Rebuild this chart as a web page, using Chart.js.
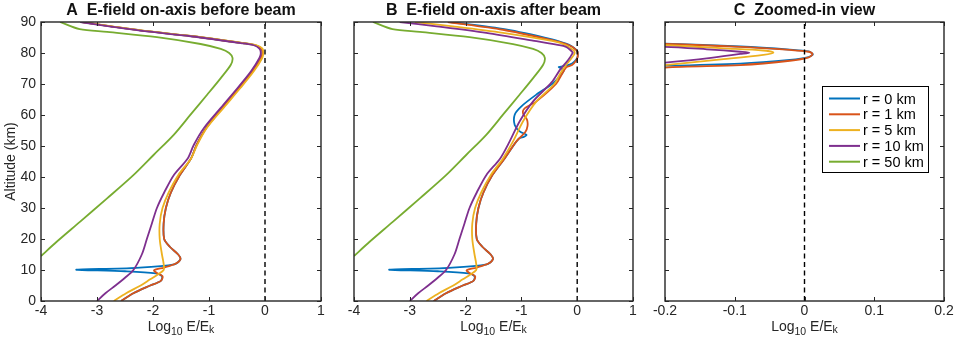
<!DOCTYPE html>
<html>
<head>
<meta charset="utf-8">
<script src="https://cdn.jsdelivr.net/npm/chart.js@4.4.0/dist/chart.umd.min.js"></script>
<style>
  body { margin: 0; background: #fff; }
  #wrap { position: relative; width: 957px; height: 342px; }
  canvas { position: absolute; top: 0; }
</style>
</head>
<body>
<div id="wrap">
  <canvas id="panelA" width="335" height="342" style="left:0px"></canvas>
  <canvas id="panelB" width="310" height="342" style="left:335px"></canvas>
  <canvas id="panelC" width="312" height="342" style="left:645px"></canvas>
</div>
<script>
// series names + matlab default colours
const series_labels = ["r = 0 km", "r = 1 km", "r = 5 km", "r = 10 km", "r = 50 km"];
const series_colors = ["#0072BD", "#D95319", "#EDB120", "#7E2F8E", "#77AC30"];

// tick values
const alt_ticks = [0, 10, 20, 30, 40, 50, 60, 70, 80, 90];
const log_ticks = [-4, -3, -2, -1, 0, 1];
const zoom_ticks = [-0.2, -0.1, 0, 0.1, 0.2];

// [log10 E/Ek, altitude km]
const zero_line = [[0, 0], [0, 90]];

// --- A: before beam ---
const before_r0 = [[-3.27,90],[-2.72,88.5],[-2.2,87.2],[-1.3,85.4],[-0.4,83.2],[-0.17,82.5],[-0.065,81.4],[-0.045,80],[-0.07,78.4],
  [-0.22,74.1],[-0.46,68.7],[-0.76,62.3],[-1.05,55.8],[-1.22,50.4],[-1.32,46],[-1.52,40.6],[-1.68,35],[-1.77,30],[-1.81,25],
  [-1.80,20],[-1.70,17.5],[-1.55,15],[-1.51,13.5],[-1.62,11.8],[-2.3,10.7],[-3.37,10.1],[-2.5,9.6],[-1.95,8.9],[-1.84,8.0],
  [-1.86,6.5],[-2.05,5],[-2.35,2.5],[-2.57,0]];
const before_r1 = [[-3.27,90],[-2.72,88.5],[-2.2,87.2],[-1.3,85.4],[-0.4,83.2],[-0.17,82.5],[-0.065,81.4],[-0.045,80],[-0.07,78.4],
  [-0.22,74.1],[-0.46,68.7],[-0.76,62.3],[-1.05,55.8],[-1.22,50.4],[-1.32,46],[-1.52,40.6],[-1.68,35],[-1.77,30],[-1.81,25],
  [-1.80,20],[-1.70,17.5],[-1.55,15],[-1.51,13.5],[-1.60,12],[-1.80,10.8],[-1.98,9.9],[-1.93,9.0],[-1.83,8.0],[-1.86,6.5],
  [-2.05,5],[-2.35,2.5],[-2.57,0]];
const before_r5 = [[-3.25,90],[-2.70,88.5],[-2.18,87.2],[-1.28,85.4],[-0.38,83.2],[-0.15,82.5],[-0.045,81.4],[-0.03,80],[-0.05,78.4],
  [-0.2,74.1],[-0.44,68.7],[-0.74,62.3],[-1.04,55.8],[-1.21,50.4],[-1.32,46],[-1.55,40.6],[-1.72,35],[-1.83,30],[-1.88,25],
  [-1.88,20],[-1.84,15],[-1.81,12],[-1.81,10],[-1.92,8.5],[-2.05,7],[-2.22,5],[-2.48,2.5],[-2.70,0]];
const before_r10 = [[-3.30,90],[-2.75,88.5],[-2.23,87.2],[-1.33,85.4],[-0.43,83.2],[-0.2,82.5],[-0.1,81.4],[-0.075,80],[-0.1,78.4],
  [-0.25,74.1],[-0.49,68.7],[-0.79,62.3],[-1.09,55.8],[-1.27,50.4],[-1.38,46],[-1.63,40.6],[-1.80,35],[-1.93,30],[-2.02,25],
  [-2.11,20],[-2.20,15],[-2.35,10],[-2.50,7.5],[-2.67,5],[-2.85,2.5],[-3.0,0]];
const before_r50 = [[-3.66,90],[-3.31,87.7],[-2.82,86.8],[-1.93,85.1],[-1.15,82.9],[-0.79,81.3],[-0.64,80.0],[-0.58,78.4],[-0.61,76.2],
  [-0.79,71.9],[-1.03,66.6],[-1.33,60.1],[-1.63,53.6],[-1.99,47.1],[-2.35,40.6],[-2.82,33.1],[-3.30,25.6],[-3.72,19.1],[-4.0,14.5]];

// --- B: after beam (C is the same curves, zoomed) ---
const after_r0 = [[-2.28,90],[-1.28,87.6],[-0.45,84.4],[-0.2,83.0],[-0.092,82.1],[-0.021,81.1],[0.006,80.5],[0.012,79.6],[0.006,78.7],
  [-0.021,77.8],[-0.092,76.6],[-0.2,75.9],[-0.33,75.5],[-0.29,75.1],[-0.24,74.3],[-0.32,72.3],[-0.45,70],[-0.73,66.6],[-1.0,62.8],
  [-1.12,60.1],[-1.12,56.8],[-1.03,54.7],[-0.91,53.6],[-0.95,53.0],[-1.05,52.3],[-1.30,46],[-1.52,40.6],[-1.68,35],[-1.77,30],
  [-1.81,25],[-1.80,20],[-1.70,17.5],[-1.55,15],[-1.51,13.5],[-1.62,11.8],[-2.3,10.7],[-3.37,10.1],[-2.5,9.6],[-1.95,8.9],
  [-1.84,8.0],[-1.86,6.5],[-2.05,5],[-2.35,2.5],[-2.57,0]];
const after_r1 = [[-2.32,90],[-1.33,87.5],[-0.49,84.3],[-0.2,82.9],[-0.092,82.0],[-0.021,81.0],[0.006,80.4],[0.0115,79.7],[0.006,78.6],
  [-0.021,77.5],[-0.092,76.1],[-0.2,75.3],[-0.28,73],[-0.38,70],[-0.73,64.4],[-0.95,62],[-0.97,60.5],[-0.90,58.5],[-0.89,56.5],
  [-0.93,54.5],[-1.09,51.5],[-1.30,46],[-1.52,40.6],[-1.68,35],[-1.77,30],[-1.81,25],[-1.80,20],[-1.70,17.5],[-1.55,15],
  [-1.51,13.5],[-1.60,12],[-1.80,10.8],[-1.98,9.9],[-1.93,9.0],[-1.83,8.0],[-1.86,6.5],[-2.05,5],[-2.35,2.5],[-2.57,0]];
const after_r5 = [[-2.91,90],[-2.23,88.6],[-1.33,86.5],[-0.43,83.8],[-0.2,82.5],[-0.116,81.5],[-0.059,80.8],[-0.0445,80.1],[-0.059,79.4],
  [-0.116,78.0],[-0.2,76.1],[-0.3,73.5],[-0.41,70],[-0.73,64.4],[-0.97,58],[-1.15,51.5],[-1.33,46],[-1.55,40.6],[-1.72,35],
  [-1.83,30],[-1.88,25],[-1.88,20],[-1.84,15],[-1.81,12],[-1.81,10],[-1.92,8.5],[-2.05,7],[-2.22,5],[-2.48,2.5],[-2.70,0]];
const after_r10 = [[-3.18,90],[-2.52,88.6],[-1.63,86.5],[-0.73,83.8],[-0.35,82.6],[-0.2,82.0],[-0.14,81.2],[-0.092,80.4],[-0.079,80.1],
  [-0.092,79.7],[-0.14,78.3],[-0.2,76.9],[-0.3,74.8],[-0.46,70.5],[-0.79,64.4],[-1.03,58],[-1.21,51.5],[-1.38,46],[-1.63,40.6],
  [-1.80,35],[-1.93,30],[-2.02,25],[-2.11,20],[-2.20,15],[-2.35,10],[-2.50,7.5],[-2.67,5],[-2.85,2.5],[-3.0,0]];
const after_r50 = before_r50;

const FONT = "'Liberation Sans', Arial, Helvetica, sans-serif";
const INK = "#262626";

function curve(points) {
    return points.map((p) => ({ x: p[0], y: p[1] }));
}

function panel_datasets(curves) {
    let sets = curves.map((c, i) => ({
        label: series_labels[i],
        data: curve(c),
        borderColor: series_colors[i],
        backgroundColor: series_colors[i],
        borderWidth: 1.8,
        pointRadius: 0,
        showLine: true,
        tension: 0.3,
        order: 10 - i,
    }));
    sets.push({
        label: "zero",
        data: curve(zero_line),
        borderColor: "#000",
        borderWidth: 1.4,
        borderDash: [5, 3.5],
        pointRadius: 0,
        showLine: true,
        order: 0,
    });
    return sets;
}

// frame, inward ticks, titles, legend
const decor = {
    id: "decor",
    afterDatasetsDraw(chart, args, opts) {
        const ctx = chart.ctx;
        const a = chart.chartArea;
        const xs = chart.scales.x;
        const ys = chart.scales.y;
        ctx.save();

        ctx.strokeStyle = INK;
        ctx.lineWidth = 1;
        ctx.beginPath();
        xs.ticks.forEach((t) => {
            const p = Math.round(xs.getPixelForValue(t.value)) + 0.5;
            ctx.moveTo(p, a.bottom); ctx.lineTo(p, a.bottom - 4);
            ctx.moveTo(p, a.top); ctx.lineTo(p, a.top + 4);
        });
        ys.ticks.forEach((t) => {
            const p = Math.round(ys.getPixelForValue(t.value)) + 0.5;
            ctx.moveTo(a.left, p); ctx.lineTo(a.left + 4, p);
            ctx.moveTo(a.right, p); ctx.lineTo(a.right - 4, p);
        });
        ctx.stroke();
        ctx.lineWidth = 1.4;
        ctx.strokeRect(a.left, a.top, a.right - a.left, a.bottom - a.top);

        // panel title
        ctx.fillStyle = "#111";
        ctx.font = "bold 16px " + FONT;
        ctx.textAlign = "center";
        ctx.textBaseline = "alphabetic";
        ctx.fillText(opts.title, (a.left + a.right) / 2, 14.5);

        // x title: Log10 E/Ek with subscripts
        ctx.fillStyle = INK;
        const parts = [["Log", 14, 0], ["10", 10.5, 3.5], [" E/E", 14, 0], ["k", 10.5, 2]];
        let total = 0;
        parts.forEach((p) => { ctx.font = p[1] + "px " + FONT; total += ctx.measureText(p[0]).width; });
        let x = (a.left + a.right) / 2 - total / 2;
        ctx.textAlign = "left";
        parts.forEach((p) => {
            ctx.font = p[1] + "px " + FONT;
            ctx.fillText(p[0], x, 331 + p[2]);
            x += ctx.measureText(p[0]).width;
        });

        if (opts.yTitle) {
            ctx.save();
            ctx.translate(14.5, (a.top + a.bottom) / 2);
            ctx.rotate(-Math.PI / 2);
            ctx.textAlign = "center";
            ctx.font = "14px " + FONT;
            ctx.fillText(opts.yTitle, 0, 0);
            ctx.restore();
        }

        if (opts.legend) {
            const bw = 106, bh = 86;
            const bx = a.right - 16 - bw, by = a.top + 64;
            ctx.fillStyle = "#fff";
            ctx.fillRect(bx, by, bw, bh);
            ctx.strokeStyle = "#000";
            ctx.lineWidth = 1;
            ctx.strokeRect(bx + 0.5, by + 0.5, bw, bh);
            ctx.font = "14.5px " + FONT;
            ctx.textBaseline = "middle";
            ctx.textAlign = "left";
            series_labels.forEach((lab, i) => {
                const yy = by + 12.5 + i * 15.8;
                ctx.strokeStyle = series_colors[i];
                ctx.lineWidth = 2;
                ctx.beginPath();
                ctx.moveTo(bx + 7, yy); ctx.lineTo(bx + 38, yy);
                ctx.stroke();
                ctx.fillStyle = "#000";
                ctx.fillText(lab, bx + 41, yy + 1);
            });
        }
        ctx.restore();
    },
};

function make_panel(id, curves, xmin, xmax, xticks, yWidth, padRight, opts) {
    const ctx = document.getElementById(id).getContext("2d");
    return new Chart(ctx, {
        type: "scatter",
        data: { datasets: panel_datasets(curves) },
        options: {
            responsive: false,
            animation: false,
            events: [],
            layout: { padding: { left: 0, top: 22, right: padRight, bottom: 0 } },
            elements: { line: { capBezierPoints: false } },
            scales: {
                x: {
                    type: "linear",
                    min: xmin,
                    max: xmax,
                    grid: { display: false, drawTicks: false },
                    border: { display: false },
                    afterBuildTicks: (s) => { s.ticks = xticks.map((v) => ({ value: v })); },
                    afterFit: (s) => { s.height = 41; },
                    ticks: { color: INK, font: { family: FONT, size: 14 }, padding: 2, maxRotation: 0, autoSkip: false },
                },
                y: {
                    type: "linear",
                    min: 0,
                    max: 90,
                    grid: { display: false, drawTicks: false },
                    border: { display: false },
                    afterBuildTicks: (s) => { s.ticks = alt_ticks.map((v) => ({ value: v })); },
                    afterFit: (s) => { s.width = yWidth; },
                    ticks: { display: !!opts.yTitle, color: INK, font: { family: FONT, size: 14 }, padding: 5 },
                },
            },
            plugins: {
                legend: { display: false },
                tooltip: { enabled: false },
                title: { display: false },
                decor: opts,
            },
        },
        plugins: [decor],
    });
}

make_panel("panelA", [before_r0, before_r1, before_r5, before_r10, before_r50], -4, 1, log_ticks, 41, 14,
    { title: "A  E-field on-axis before beam", yTitle: "Altitude (km)" });
make_panel("panelB", [after_r0, after_r1, after_r5, after_r10, after_r50], -4, 1, log_ticks, 19, 12,
    { title: "B  E-field on-axis after beam" });
make_panel("panelC", [after_r0, after_r1, after_r5, after_r10, after_r50], -0.2, 0.2, zoom_ticks, 20, 13,
    { title: "C  Zoomed-in view", legend: true });
</script>
</body>
</html>
